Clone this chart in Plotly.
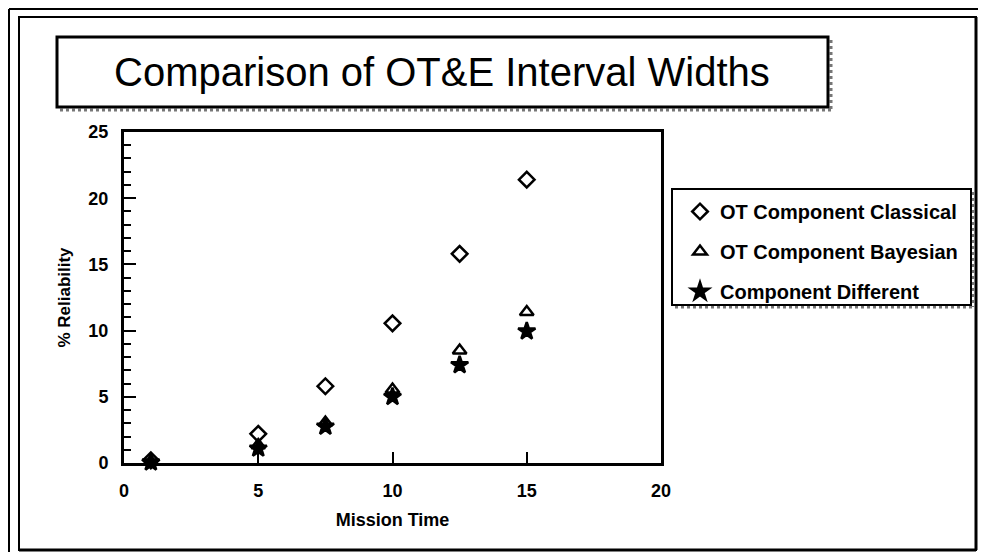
import plotly.graph_objects as go

# ---- data ----
mission_time = [1, 5, 7.5, 10, 12.5, 15]
classical = [0.2, 2.2, 5.8, 10.55, 15.8, 21.4]
bayesian = [0.1, 1.35, 3.05, 5.55, 8.5, 11.4]
different = [0.05, 1.1, 2.75, 5.0, 7.4, 9.95]
series_names = ["OT Component Classical", "OT Component Bayesian", "Component Different"]
x_ticks = [0, 5, 10, 15, 20]
y_ticks = [0, 5, 10, 15, 20, 25]

# ---- layout geometry (page pixels; page body has an 8px margin) ----
OX, OY = 8, 8
W, H = 986 - 2 * OX, 560 - 2 * OY
L, R, T, B = 124, 661, 132, 463  # plot area in page pixels


def px(x):
    return (x - L) / (R - L)


def py(y):
    return (B - y) / (B - T)


FONT = "Liberation Sans, Arial, Helvetica, sans-serif"

fig = go.Figure()
symbols = ["diamond-open", "triangle-up-open", "star"]
sizes = [12, 12, 13]
for i, (name, vals) in enumerate(zip(series_names, [classical, bayesian, different])):
    fig.add_trace(go.Scatter(
        x=mission_time, y=vals, mode="markers", name=name,
        legendgroup=f"g{i}",
        marker=dict(symbol=symbols[i], size=sizes[i], color="black",
                    line=dict(color="black", width=2.5)),
        cliponaxis=False,
    ))


def rect(x0, y0, x1, y1, width=2, color="black", dash="solid"):
    return dict(type="rect", xref="paper", yref="paper",
                x0=px(x0), x1=px(x1), y0=py(y1), y1=py(y0),
                line=dict(color=color, width=width, dash=dash))


def line(x0, y0, x1, y1, width=2, color="black", dash="solid"):
    return dict(type="line", xref="paper", yref="paper",
                x0=px(x0), x1=px(x1), y0=py(y0), y1=py(y1),
                line=dict(color=color, width=width, dash=dash))


shapes = [
    # outer frame
    line(9, 9, 986, 9, 2),
    line(9, 9, 9, 560, 2),
    # inner frame
    rect(19, 17, 976, 550, 2),
    line(19, 550, 976, 550, 3),
    line(976, 17, 976, 550, 3),
    # title box with speckled shadow
    line(60, 110, 832, 110, 3, "#777777", "dot"),
    line(831, 40, 831, 110, 3, "#777777", "dot"),
    rect(57, 37, 828, 107, 3),
    # legend box with shadow
    line(675, 307, 974, 307, 3, "#777777", "dot"),
    line(973, 192, 973, 307, 3, "#777777", "dot"),
    rect(672, 189, 971, 305, 2),
]

fig.update_layout(
    width=W, height=H,
    margin=dict(l=L - OX, r=(OX + W) - R, t=T - OY, b=(OY + H) - B, pad=0),
    paper_bgcolor="white", plot_bgcolor="white",
    font=dict(family=FONT, color="black", size=16),
    showlegend=True,
    legend=dict(x=px(680), y=py(192), xanchor="left", yanchor="top",
                bgcolor="rgba(0,0,0,0)", borderwidth=0,
                font=dict(family=FONT, size=20, color="black", weight="bold"),
                tracegroupgap=11, itemwidth=30),
    shapes=shapes,
    annotations=[dict(
        text="Comparison of OT&E Interval Widths", xref="paper", yref="paper",
        x=px(442), y=py(72), xanchor="center", yanchor="middle", showarrow=False,
        font=dict(family=FONT, size=40, color="black"),
    )],
)

fig.update_xaxes(
    range=[0, 20], tickvals=x_ticks, ticktext=[str(v) for v in x_ticks],
    ticks="inside", ticklen=11, tickwidth=2, tickcolor="black",
    showline=True, linewidth=3, linecolor="black", mirror=True,
    showgrid=False, zeroline=False, ticklabelstandoff=9,
    tickfont=dict(family=FONT, size=18, color="black", weight="bold"),
    title=dict(text="Mission Time", standoff=14,
               font=dict(family=FONT, size=18, color="black", weight="bold")),
)
fig.update_yaxes(
    range=[0, 25], tickvals=y_ticks, ticktext=[str(v) for v in y_ticks],
    ticks="inside", ticklen=12, tickwidth=2, tickcolor="black",
    minor=dict(dtick=1, ticks="inside", ticklen=7, tickwidth=2, tickcolor="black"),
    showline=True, linewidth=3, linecolor="black", mirror=True,
    showgrid=False, zeroline=False, ticklabelstandoff=9,
    tickfont=dict(family=FONT, size=18, color="black", weight="bold"),
    title=dict(text="% Reliability", standoff=14,
               font=dict(family=FONT, size=17, color="black", weight="bold")),
)

fig.write_html("out.html")
